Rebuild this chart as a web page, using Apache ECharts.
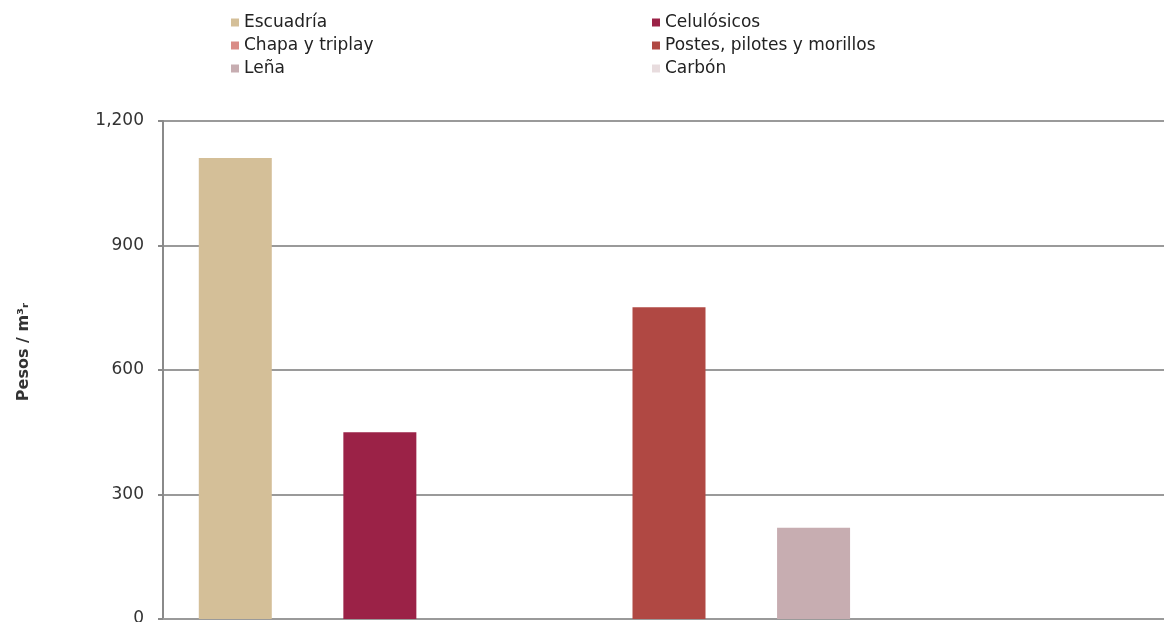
<!DOCTYPE html>
<html>
<head>
<meta charset="utf-8">
<script src="https://cdn.jsdelivr.net/npm/echarts@6/dist/echarts.min.js"></script>
<style>
html,body{margin:0;padding:0;background:#fff;}
#chart{width:1164px;height:622px;}
</style>
</head>
<body>
<div id="chart"></div>
<script>
var categories = ['Escuadría', 'Celulósicos', 'Chapa y triplay', 'Postes, pilotes y morillos', 'Leña', 'Carbón'];
var values = [1111, 450, 0, 751, 220, 0];
var colors = ['#d4bf98', '#9b2247', '#d98b86', '#b04843', '#c7adb1', '#e8dcde'];
var yTicks = [0, 300, 600, 900, 1200];
var legendLeft = ['Escuadría', 'Chapa y triplay', 'Leña'];
var legendRight = ['Celulósicos', 'Postes, pilotes y morillos', 'Carbón'];

var font = 'DejaVu Sans';
var chart = echarts.init(document.getElementById('chart'), null, {renderer: 'canvas'});

var series = categories.map(function (name, i) {
  var d = categories.map(function (c, j) { return j === i ? values[i] : '-'; });
  return {
    name: name,
    type: 'bar',
    stack: 'all',
    barWidth: 73,
    data: d,
    itemStyle: {color: colors[i]}
  };
});

var legendCommon = {
  orient: 'vertical',
  icon: 'rect',
  itemWidth: 8,
  itemHeight: 8,
  itemGap: 6,
  textStyle: {fontFamily: font, fontSize: 17, color: '#222', padding: [0, 0, 0, 0]},
  selectedMode: false
};

chart.setOption({
  animation: false,
  textStyle: {fontFamily: font},
  legend: [
    Object.assign({}, legendCommon, {left: 226, top: 9, data: legendLeft}),
    Object.assign({}, legendCommon, {left: 647, top: 9, data: legendRight})
  ],
  grid: {left: 163, right: -11, top: 121, bottom: 3, containLabel: false, outerBoundsMode: 'none'},
  xAxis: {
    type: 'category',
    data: categories,
    max: 6,
    axisLine: {show: true, lineStyle: {color: '#9a9a9a', width: 2}},
    axisTick: {show: false},
    axisLabel: {show: false},
    splitLine: {show: false}
  },
  yAxis: {
    type: 'value',
    min: yTicks[0],
    max: yTicks[yTicks.length - 1],
    interval: 300,
    name: 'Pesos / m³ᵣ',
    nameLocation: 'middle',
    nameGap: 131,
    nameRotate: 90,
    nameTextStyle: {fontFamily: font, fontSize: 16, fontWeight: 'bold', color: '#333', padding: [0, 0, 0, 36]},
    axisLine: {show: true, lineStyle: {color: '#8a8a8a', width: 2}},
    axisTick: {show: true, length: 5, lineStyle: {color: '#8a8a8a', width: 2}},
    axisLabel: {
      fontFamily: font, fontSize: 17, color: '#333', margin: 19,
      formatter: function (v) { return v.toLocaleString('en-US'); }
    },
    splitLine: {show: true, lineStyle: {color: '#9a9a9a', width: 2}}
  },
  series: series
});
</script>
</body>
</html>
